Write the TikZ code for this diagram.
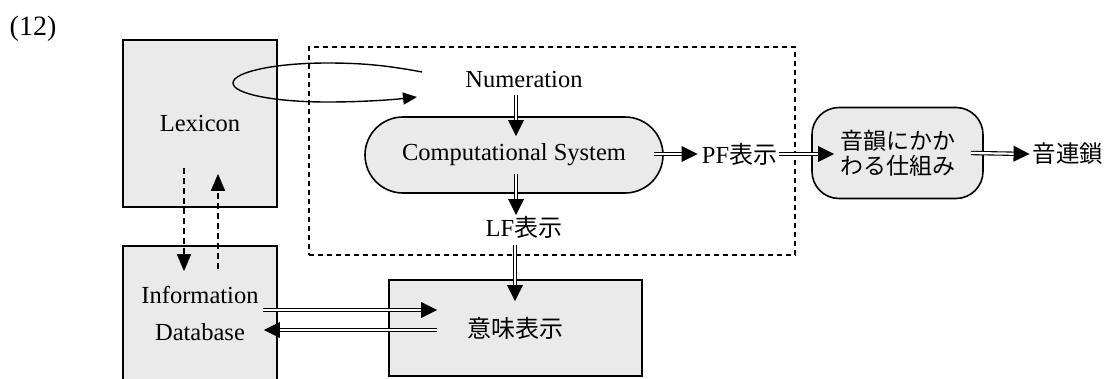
\documentclass[tikz,border=0pt]{standalone}
\usepackage{fontspec}
\setmainfont{Liberation Serif}
\newfontfamily\jp{Noto Sans CJK JP}
\usetikzlibrary{arrows.meta,calc,decorations.markings}
\definecolor{boxfill}{RGB}{234,234,234}
\begin{document}
\begin{tikzpicture}[x=1pt,y=-1pt,
  every node/.style={font=\fontsize{24.5}{28}\selectfont, inner sep=2pt},
  panel/.style={draw, line width=1.6pt, fill=boxfill, align=center},
  frame/.style={draw, dash pattern=on 5pt off 4pt, line width=1.5pt},
  dbl/.style={double, double distance=2.2pt, line width=1.1pt, shorten >=6pt,
    postaction={draw=none, decorate, decoration={markings,
      mark=at position 1 with {\fill[black, shorten >=0pt] (0pt,0pt) -- (-16pt,8pt) -- (-16pt,-8pt) -- cycle;}}}},
  dsh/.style={dash pattern=on 6pt off 4pt, line width=1.5pt, -{Triangle[length=17pt,width=14pt]}},
  looparrow/.style={line width=1.4pt, -{Triangle[length=14pt,width=12pt]}},
  txt/.style={},
]
\useasboundingbox (0,0) rectangle (1106,378);
% title
\node[font=\fontsize{28}{32}\selectfont] (title) at (33,29) {(12)};
% dashed frame
\node[frame, minimum width=486pt, minimum height=208pt] (box) at (552,151) {};
% boxes
\node[panel, minimum width=154pt, minimum height=167pt] (lex) at (200,123.5) {Lexicon};
\node[panel, minimum width=154pt, minimum height=134pt, font=\fontsize{24.5}{37}\selectfont] (info) at (200,313) {Information\\Database};
\node[panel, minimum width=298pt, minimum height=76pt, rounded corners=38pt] (cs) at (514,155) {Computational System};
\node[panel, minimum width=171pt, minimum height=91pt, rounded corners=27pt, font=\jp\fontsize{23}{25}\selectfont] (phon) at (897.5,153) {音韻にかか\\わる仕組み};
\node[panel, minimum width=253pt, minimum height=96pt, font=\jp\fontsize{24}{28}\selectfont] (mean) at (515.5,328) {意味表示};
% labels
\node[txt] (num) at (524,80) {Numeration};
\node[txt] (lf) at (524,227) {LF{\jp\fontsize{24}{28}\selectfont 表示}};
\node[txt] (pf) at (739.5,154) {PF{\jp\fontsize{24}{28}\selectfont 表示}};
\node[txt, font=\jp\fontsize{23.5}{28}\selectfont] (out) at (1068,154) {音連鎖};
% loop from Lexicon to Numeration
\coordinate (loopA) at (422,72);
\coordinate (loopB) at (417,97);
\draw[looparrow] (loopA) .. controls (385,65) and (360,63) .. (327,63)
  .. controls (275,63) and (233,72) .. (233,83)
  .. controls (233,94) and (275,102) .. (327,102)
  .. controls (360,102) and (390,100) .. (loopB);
% double arrows
\draw[dbl] ($(num.center)+(-8,15)$) -- ($(cs.north)+(2,20)$);
\draw[dbl] ($(cs.south)+(2,-20)$) -- ($(lf.center)+(-8,-12)$);
\draw[dbl] ($(lf.center)+(-9,18)$) -- ($(mean.north)+(-0.5,22)$);
\draw[dbl] ($(cs.east)+(-10,-1)$) -- ($(pf.west)+(-2,0)$);
\draw[dbl] (pf.east) -- ($(pf.east -| phon.west)+(23,0)$);
\draw[dbl] ($(phon.east)+(-13,0)$) -- ($(out.west)+(-1,0)$);
\draw[dbl] ($(info.east)+(-15,-3)$) -- ($(info.east -| mean.west)+(49,-3)$);
\draw[dbl] ($(info.east -| mean.west)+(49,17)$) -- ($(info.east)+(-14,17)$);
% dashed arrows
\draw[dsh] ($(lex.south)+(-16,-40)$) -- ($(info.north)+(-16,26)$);
\draw[dsh] ($(info.north)+(18,24)$) -- ($(lex.south)+(18,-34)$);
\end{tikzpicture}
\end{document}
